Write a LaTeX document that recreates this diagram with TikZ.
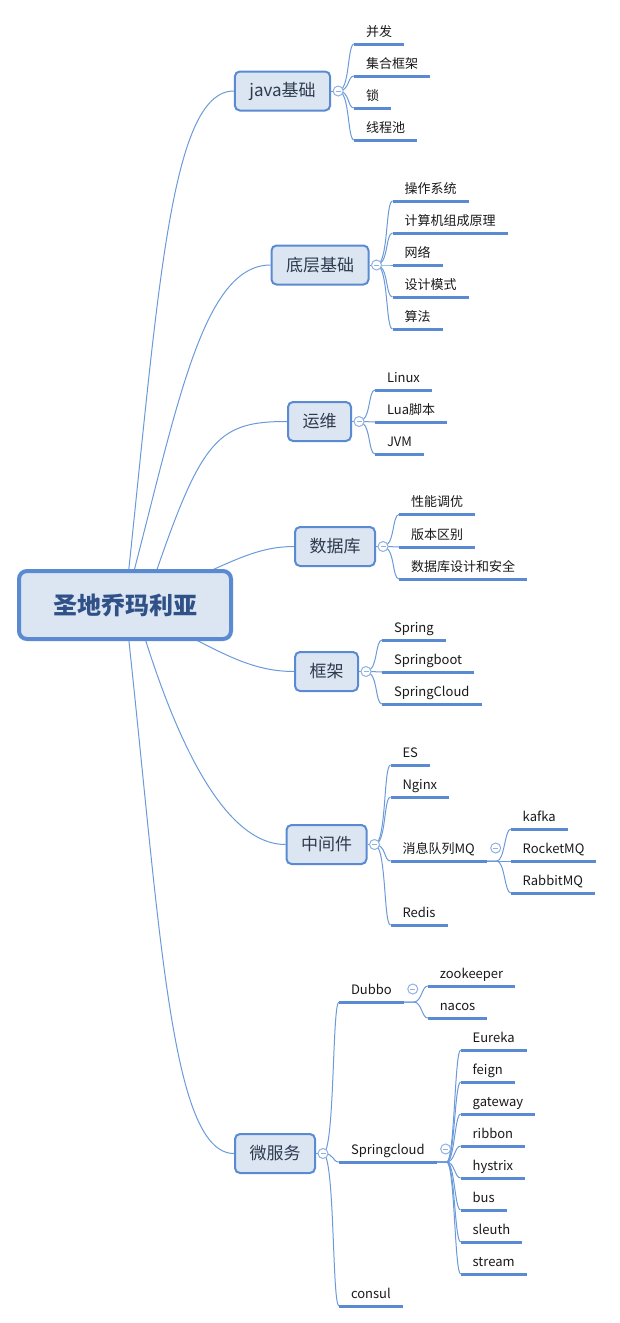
\documentclass[tikz,border=0pt]{standalone}
\usepackage{fontspec}
\setmainfont{Noto Sans CJK SC}
\usetikzlibrary{positioning,backgrounds}
\definecolor{mapblue}{HTML}{5A8BD2}
\definecolor{linkblue}{HTML}{6A9ADA}
\definecolor{boxfill}{HTML}{DCE6F2}
\definecolor{roottext}{HTML}{2F5188}
\definecolor{topictext}{HTML}{2E3B4E}
\definecolor{togblue}{HTML}{8FB1E3}

\begin{document}
\begin{tikzpicture}[x=1pt, y=-1pt,
    root/.style={draw=mapblue, line width=4pt, fill=boxfill, rounded corners=8pt, minimum width=212pt, minimum height=68pt, font=\fontsize{24}{28}\selectfont\bfseries, text=roottext},
    topic/.style={draw=mapblue, line width=2pt, fill=boxfill, rounded corners=5pt, minimum height=39pt, inner xsep=14.5pt, font=\fontsize{17}{20}\selectfont, text=topictext},
    tog/.style={circle, draw=togblue, fill=white, line width=1pt, minimum size=10pt, inner sep=0pt,
        path picture={\draw[togblue, line width=1pt] ([xshift=-2.5pt]path picture bounding box.center) -- ([xshift=2.5pt]path picture bounding box.center);}},
    leaf/.style={anchor=south west, inner xsep=12pt, inner ysep=5pt, outer sep=0pt, text height=10pt, text depth=3pt, font=\fontsize{13}{15}\selectfont, text=black!90},
    uline/.style={mapblue, line width=3pt},
    link/.style={linkblue, line width=1pt}
]
\useasboundingbox (0,0) rectangle (619,1323);

% centre and main topics
\node[root] (root) at (125,605) {圣地乔玛利亚};
\node[topic] (java) at (282.5,91) {java基础};
\node[topic] (base) at (320,265) {底层基础};
\node[topic] (ops) at (319.5,421.5) {运维};
\node[topic] (db) at (335,546.5) {数据库};
\node[topic] (fw) at (326.5,671.5) {框架};
\node[topic] (mw) at (326.5,844.5) {中间件};
\node[topic] (ms) at (275,1153.5) {微服务};

% collapse buttons
\foreach \b in {java,base,ops,db,fw,mw,ms}{
  \node[tog, right=1.5pt of \b] (c\b) {};
  \path (c\b.center) ++(16,0) coordinate (x\b);
}

% subtopics
\foreach \n/\txt/\y in {j1/并发/44, j2/集合框架/76, j3/锁/108, j4/线程池/140}
  \node[leaf] (\n) at (xjava |- 0,\y) {\txt};
\foreach \n/\txt/\y in {b1/操作系统/201, b2/计算机组成原理/233, b3/网络/265, b4/设计模式/297, b5/算法/329}
  \node[leaf] (\n) at (xbase |- 0,\y) {\txt};
\foreach \n/\txt/\y in {o1/Linux/390, o2/Lua脚本/422, o3/JVM/454}
  \node[leaf] (\n) at (xops |- 0,\y) {\txt};
\foreach \n/\txt/\y in {g1/性能调优/514.5, g2/版本区别/547, g3/数据库设计和安全/579}
  \node[leaf] (\n) at (xdb |- 0,\y) {\txt};
\foreach \n/\txt/\y in {f1/Spring/640, f2/Springboot/672, f3/SpringCloud/704}
  \node[leaf] (\n) at (xfw |- 0,\y) {\txt};
\foreach \n/\txt/\y in {m1/ES/765, m2/Nginx/797, m3/消息队列MQ/861, m4/Redis/925}
  \node[leaf] (\n) at (xmw |- 0,\y) {\txt};
\foreach \n/\txt/\y in {s1/Dubbo/1002, s2/Springcloud/1162, s3/consul/1306}
  \node[leaf] (\n) at (xms |- 0,\y) {\txt};

% third level
\foreach \p in {m3,s1,s2}{
  \node[tog] (c\p) at ([shift={(9,-13)}]\p.south east) {};
  \path (\p.south east) ++(24,0) coordinate (x\p);
}
\foreach \n/\txt/\y in {q1/kafka/829, q2/RocketMQ/861, q3/RabbitMQ/893}
  \node[leaf] (\n) at (xm3 |- 0,\y) {\txt};
\foreach \n/\txt/\y in {z1/zookeeper/986, z2/nacos/1018}
  \node[leaf] (\n) at (xs1 |- 0,\y) {\txt};
\foreach \n/\txt/\y [count=\i] in {e1/Eureka/1050, e2/feign/1082, e3/gateway/1114, e4/ribbon/1146,
    e5/hystrix/1178, e6/bus/1210, e7/sleuth/1242, e8/stream/1274}
  \node[leaf] (\n) at (xs2 |- 0,\y) {\txt};

% underlines
\foreach \n in {j1,j2,j3,j4,b1,b2,b3,b4,b5,o1,o2,o3,g1,g2,g3,f1,f2,f3,m1,m2,m3,m4,
    s1,s2,s3,q1,q2,q3,z1,z2,e1,e2,e3,e4,e5,e6,e7,e8}
  \draw[uline] (\n.south west) -- (\n.south east);

\begin{scope}[on background layer]
% root to topics
\draw[link] (root.center) .. controls +(33,-305) and +(-65,0) .. (java.west);
\draw[link] (root.center) .. controls +(50,-185) and +(-71,0) .. (base.west);
\draw[link] ([xshift=20pt]root.center) .. controls +(55,-165) and +(-73,0) .. (ops.west);
\draw[link] (root.center) .. controls +(90,-30) and +(-50,0) .. (db.west);
\draw[link] (root.center) .. controls +(80,35) and +(-55,0) .. (fw.west);
\draw[link] ([xshift=10pt]root.center) .. controls +(33,115) and +(-67,0) .. (mw.west);
\draw[link] (root.center) .. controls +(35,315) and +(-65,0) .. (ms.west);
\foreach \b in {java,base,ops,db,fw,mw,ms}
  \draw[link] (\b) -- (c\b);

% topics to subtopics
\foreach \c/\n in {java/j1,java/j2,java/j3,java/j4,base/b1,base/b2,base/b3,base/b4,base/b5,
    ops/o1,ops/o2,ops/o3,db/g1,db/g2,db/g3,fw/f1,fw/f2,fw/f3,mw/m1,mw/m2,mw/m3,mw/m4,
    ms/s1,ms/s2,ms/s3}
  \draw[link] (c\c.center) .. controls +(12,0) and +(-7,0) .. (\n.south west);
\foreach \c/\n in {m3/q1,m3/q2,m3/q3,s1/z1,s1/z2,s2/e1,s2/e2,s2/e3,s2/e4,s2/e5,s2/e6,s2/e7,s2/e8}
  \draw[link] (\c.south east) -- ++(10,0) .. controls +(8,0) and +(-6,0) .. (\n.south west);
\end{scope}
\end{tikzpicture}
\end{document}
